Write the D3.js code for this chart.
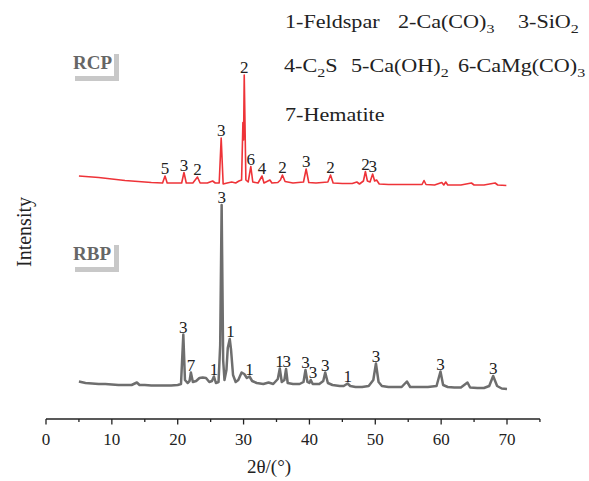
<!DOCTYPE html>
<html><head><meta charset="utf-8">
<script src="https://cdn.jsdelivr.net/npm/d3@7"></script>
<style>body{margin:0;background:#fff}svg{display:block}</style>
</head><body><div id="chart"></div>
<script>
// ---- data ----
const rbpTheta = [5.0,6,7,8,9,10,11,12,13,13.8,14.2,15,16,17,18,19,20,20.5,20.85,21.1,21.5,21.8,22.0,22.3,22.8,23.3,23.8,24.3,24.8,25.2,25.5,25.8,26.2,26.45,26.67,26.9,27.1,27.4,27.6,27.9,28.1,28.4,28.8,29.2,29.7,30.1,30.5,30.9,31.3,32,33,33.8,34.5,35.2,35.5,35.8,36.2,36.45,36.7,37.5,38.5,39.1,39.4,39.7,40.0,40.2,40.5,41.5,42.1,42.4,42.8,43.5,44.6,45.2,45.8,46.2,47,48,49,49.7,50.1,50.5,51,52,53,54,54.8,55.3,56.5,58,59.3,59.9,60.3,61,62,63,64,64.4,65.5,66.5,67.3,67.9,68.5,69.2,70];
const rbpIntensity = [77,74,73,72,72,71,70,70,70,75,70,70,69,69,69,69,70,72,171,80,74,78,95,76,78,84,85,84,76,78,87,74,76,150,430,120,80,100,144,162,140,90,76,80,95,92,84,87,78,74,72,75,72,82,103,76,80,102,74,72,72,76,100,76,74,80,72,72,78,95,74,70,68,68,73,68,66,66,68,80,113,76,68,66,66,66,77,66,66,66,68,97,70,66,65,65,75,65,64,64,68,88,68,63,62];
const rcpTheta = [5,6,8,10,12,14,16,17.7,18.07,18.4,19.5,20.6,20.95,21.3,22.3,23.0,23.4,24.5,25.3,25.7,26.3,26.6,26.9,27.5,28.2,28.8,29.3,29.7,29.9,30.0,30.1,30.35,30.7,31.1,31.4,32.2,32.8,33.1,34.0,34.3,35.2,35.6,35.9,36.3,37.5,39.1,39.5,39.9,41,42.8,43.2,43.6,45,46.5,47.2,47.6,48.2,48.5,48.8,49.2,49.6,49.9,50.2,50.6,52,54,56,57.1,57.4,57.7,59,60.1,60.4,60.7,61,63,64.6,65,66.5,68.2,68.6,69.9];
const rcpIntensity = [488,487,485,482,479,477,475,474,488,474,474,474,495,474,474,486,474,474,478,474,474,564,472,474,476,474,478,480,595,560,690,480,476,507,476,474,488,474,480,474,475,480,490,477,474,476,502,475,474,476,490,474,473,473,476,472,478,497,478,476,492,478,480,472,471,471,471,471,479,471,470,475,470,476,470,470,474,470,470,474,470,469];
const rcpLabelText = ["5","3","2","3","2","6","4","2","3","2","2","3"];
const rcpLabelTheta = [18.07,20.95,23.0,26.6,30.1,31.1,32.8,35.9,39.5,43.2,48.5,49.6];
const rbpLabelText = ["3","7","1","3","1","1","1","3","3","3","3","1","3","3","3"];
const rbpLabelTheta = [20.85,22.0,25.5,26.67,28.0,30.9,35.45,36.55,39.4,40.55,42.4,45.8,50.1,59.9,67.9];
const xTicks = [0,10,20,30,40,50,60,70];
const xMinorTicks = [5,15,25,35,45,55,65,75];
const legendRows = [
  [[["1-Feldspar",0]],[["2-Ca(CO)",0],["3",1]],[["3-SiO",0],["2",1]]],
  [[["4-C",0],["2",1],["S",0]],[["5-Ca(OH)",0],["2",1]],[["6-CaMg(CO)",0],["3",1]]],
  [[["7-Hematite",0]]]
];
const sampleNames = ["RCP","RBP"];

// ---- drawing ----
const W=589,H=481;
const svg=d3.select("#chart").append("svg").attr("width",W).attr("height",H);
const font="'Liberation Serif','Times New Roman',serif";
const x=d3.scaleLinear().domain([0,70]).range([46,507]);
const y=d3.scaleLinear().domain([0,760]).range([420,40]);

// axis
const axisY=419;
const ax=svg.append("g").attr("transform",`translate(0,${axisY})`);
ax.append("line").attr("x1",x(0)).attr("x2",x(75)).attr("stroke","#222").attr("stroke-width",1.3);
ax.selectAll(".mj").data(xTicks).join("line").attr("x1",d=>x(d)).attr("x2",d=>x(d)).attr("y1",0).attr("y2",5.5).attr("stroke","#222").attr("stroke-width",1.3);
ax.selectAll(".mn").data(xMinorTicks).join("line").attr("x1",d=>x(d)).attr("x2",d=>x(d)).attr("y1",0).attr("y2",3).attr("stroke","#222").attr("stroke-width",1.3);
ax.selectAll(".tl").data(xTicks).join("text").attr("x",d=>x(d)).attr("y",26).attr("text-anchor","middle")
  .attr("font-family",font).attr("font-size",17).attr("fill","#222").text(d=>d);
svg.append("text").attr("x",269).attr("y",473).attr("text-anchor","middle").attr("font-family",font).attr("font-size",19).attr("fill","#222").text("2θ/(°)");
svg.append("text").attr("transform","translate(31,232) rotate(-90)").attr("text-anchor","middle").attr("font-family",font).attr("font-size",20).attr("fill","#222").text("Intensity");

// lines
const line=d3.line().x(d=>x(d[0])).y(d=>y(d[1]));
const rbp=rbpTheta.map((t,i)=>[t,rbpIntensity[i]]);
const rcp=rcpTheta.map((t,i)=>[t,rcpIntensity[i]]);
svg.append("path").datum(rbp).attr("d",line).attr("fill","none").attr("stroke","#6e6e6e").attr("stroke-width",2.5).attr("stroke-linejoin","round");
svg.append("path").datum(rcp).attr("d",line).attr("fill","none").attr("stroke","#ee3338").attr("stroke-width",1.6).attr("stroke-linejoin","round");

// peak labels
function peakVal(data,t){let best=null;data.forEach(d=>{if(Math.abs(d[0]-t)<=0.4&&(best===null||d[1]>best))best=d[1];});return best;}
function drawLabels(data,texts,thetas){
  svg.append("g").selectAll("text").data(texts).join("text")
    .attr("x",(d,i)=>x(thetas[i])).attr("y",(d,i)=>y(peakVal(data,thetas[i]))-2)
    .attr("text-anchor","middle").attr("font-family",font).attr("font-size",17).attr("fill","#222").text(d=>d);
}
drawLabels(rcp,rcpLabelText,rcpLabelTheta);
drawLabels(rbp,rbpLabelText,rbpLabelTheta);

// sample tags
const tagTops=[54,245];
sampleNames.forEach((n,i)=>{
  const g=svg.append("g").attr("transform",`translate(75,${tagTops[i]})`);
  g.append("rect").attr("x",39).attr("y",0).attr("width",5).attr("height",27).attr("fill","#c8c8c8");
  g.append("rect").attr("x",0).attr("y",22).attr("width",44).attr("height",5).attr("fill","#c8c8c8");
  g.append("text").attr("x",-2).attr("y",15).attr("font-family",font).attr("font-weight","bold").attr("font-size",19).attr("fill","#666").text(n);
});

// legend
const legX=[[285,398,518],[284,351,458],[285]];
const legY=[28,72,121];
legendRows.forEach((row,r)=>{
  row.forEach((parts,c)=>{
    const t=svg.append("text").attr("transform",`translate(${legX[r][c]},${legY[r]}) scale(1.23,1)`)
      .attr("font-family",font).attr("font-size",18).attr("fill","#222");
    let prevSub=0;
    parts.forEach(p=>{
      const sp=t.append("tspan").text(p[0]);
      if(p[1]){sp.attr("font-size",13).attr("dy",5);prevSub=1;}
      else if(prevSub){sp.attr("dy",-5);prevSub=0;}
    });
  });
});
</script></body></html>
